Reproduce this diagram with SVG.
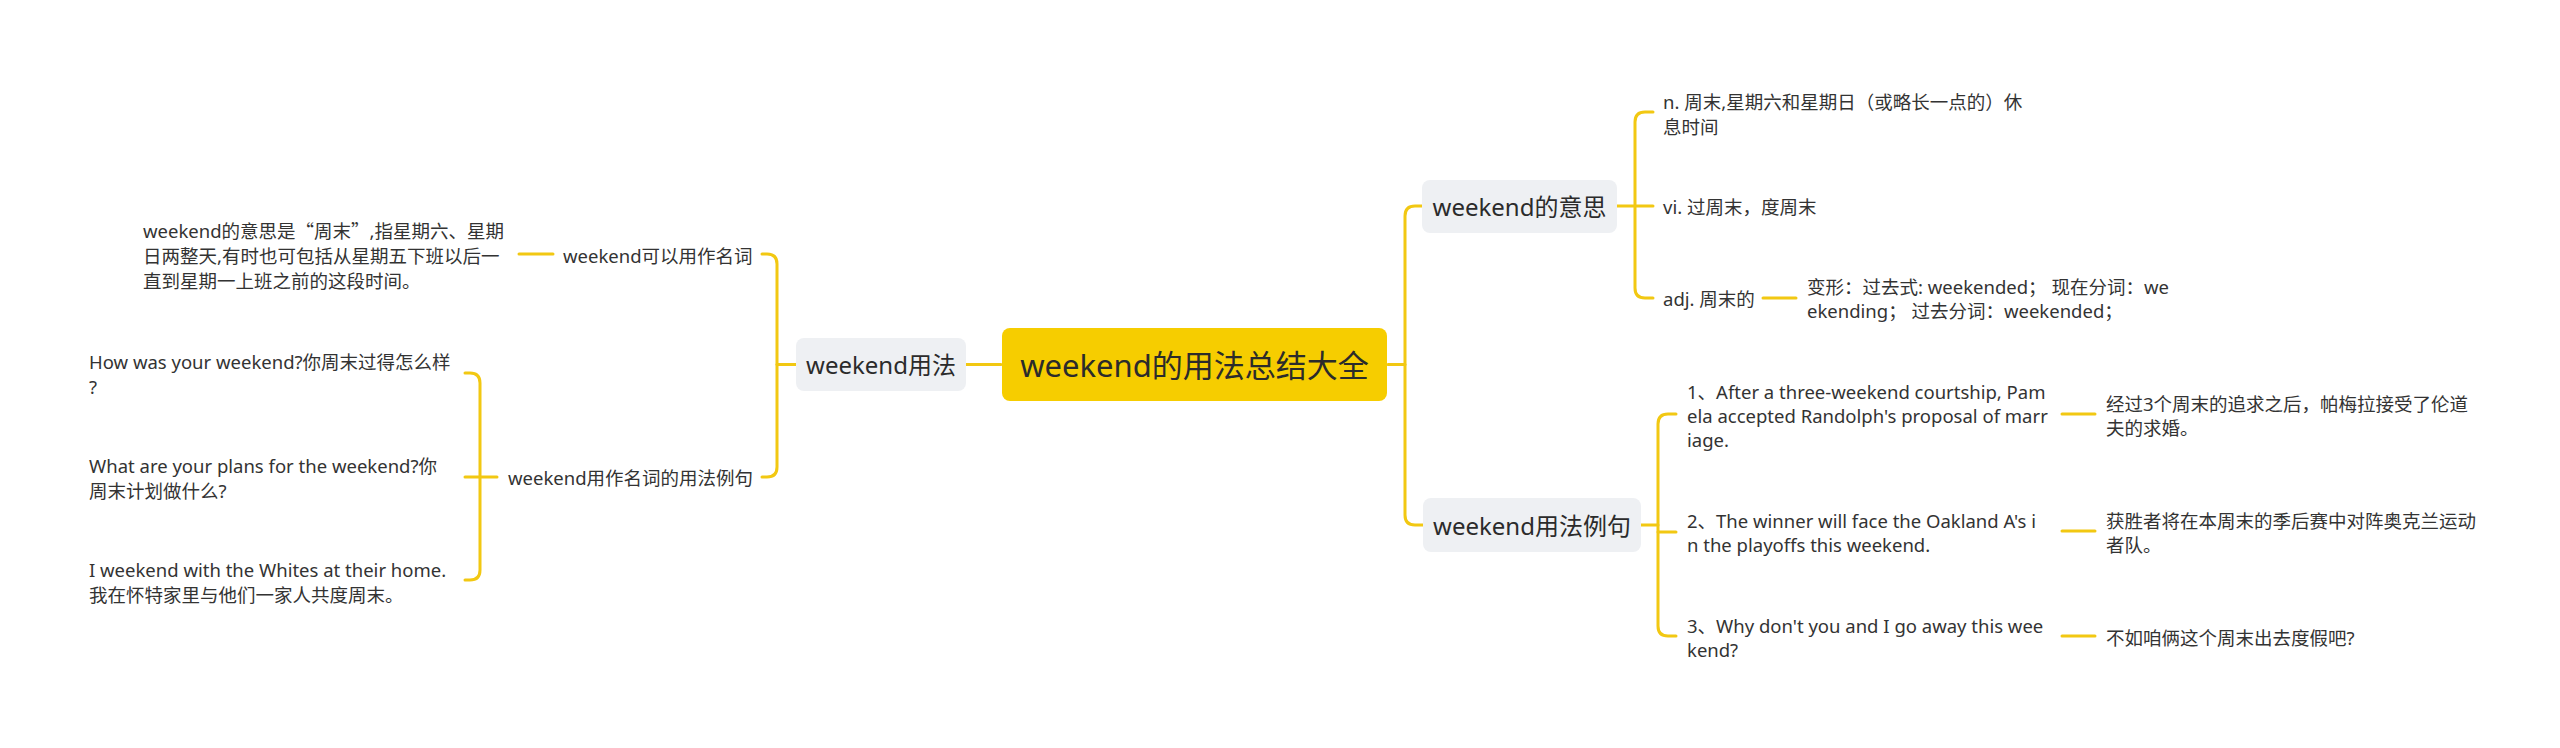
<svg xmlns="http://www.w3.org/2000/svg" width="2560" height="748" viewBox="0 0 2560 748">
<style>
text{font-family:"Noto Sans","Noto Sans CJK SC",sans-serif;fill:#333;dominant-baseline:central}
.root{font-size:31px;text-anchor:middle;fill:#2b2b2b}
.br{font-size:24px;text-anchor:middle;fill:#2b2b2b}
.sm{font-size:18.5px}
.cjk{font-family:"Noto Sans CJK SC",sans-serif}
.c{fill:none;stroke:#F2C812;stroke-width:3;stroke-linecap:round}
.bx{fill:#EEF0F3}
</style>
<rect width="2560" height="748" fill="#fff"/>
<g id="connectors">
<path class="c" d="M1001,364.5 H966"/>
<path class="c" d="M796,364.5 H777"/>
<path class="c" d="M762,254 H767 Q777,254 777,264 V467 Q777,477 767,477 H762"/>
<path class="c" d="M519,254 H553"/>
<path class="c" d="M497,477 H465"/>
<path class="c" d="M465,373 H470 Q480,373 480,383 V570 Q480,580 470,580 H465"/>
<path class="c" d="M1388,364.5 H1405"/>
<path class="c" d="M1422,206 H1415 Q1405,206 1405,216 V515 Q1405,525 1415,525 H1423"/>
<path class="c" d="M1617,206 H1653"/>
<path class="c" d="M1653,112 H1645 Q1635,112 1635,122 V288 Q1635,298 1645,298 H1653"/>
<path class="c" d="M1763,298 H1796"/>
<path class="c" d="M1641,525 H1658"/>
<path class="c" d="M1658,532 H1676"/>
<path class="c" d="M1676,414 H1668 Q1658,414 1658,424 V626 Q1658,636 1668,636 H1676"/>
<path class="c" d="M2062,414 H2095"/>
<path class="c" d="M2062,531 H2095"/>
<path class="c" d="M2062,636 H2095"/>
</g>
<g id="root">
<rect x="1002" y="328" width="385" height="73" rx="8" fill="#F6CD00"/>
<text class="root" x="1194.5" y="364.5">weekend的用法总结大全</text>
</g>
<g id="n-usage">
<rect class="bx" x="796" y="338" width="170" height="53" rx="8"/>
<text class="br" x="881" y="364.5">weekend用法</text>
</g>
<g id="n-noun">
<text class="sm" x="563" y="255">weekend可以用作名词</text>
</g>
<g id="n-noun-desc">
<text class="sm" x="143" y="230">weekend的意思是<tspan class="cjk">“</tspan>周末<tspan class="cjk">”</tspan>,指星期六、星期</text>
<text class="sm" x="143" y="255">日两整天,有时也可包括从星期五下班以后一</text>
<text class="sm" x="143" y="280">直到星期一上班之前的这段时间。</text>
</g>
<g id="n-noun-examples">
<text class="sm" x="508" y="477">weekend用作名词的用法例句</text>
</g>
<g id="n-ex1">
<text class="sm" x="89" y="361">How was your weekend?你周末过得怎么样</text>
<text class="sm" x="89" y="386">?</text>
</g>
<g id="n-ex2">
<text class="sm" x="89" y="465">What are your plans for the weekend?你</text>
<text class="sm" x="89" y="490">周末计划做什么?</text>
</g>
<g id="n-ex3">
<text class="sm" x="89" y="569">I weekend with the Whites at their home.</text>
<text class="sm" x="89" y="594">我在怀特家里与他们一家人共度周末。</text>
</g>
<g id="n-meaning">
<rect class="bx" x="1422" y="180" width="195" height="53" rx="8"/>
<text class="br" x="1519.5" y="206">weekend的意思</text>
</g>
<g id="n-m1">
<text class="sm" x="1663" y="101">n. 周末,星期六和星期日（或略长一点的）休</text>
<text class="sm" x="1663" y="126">息时间</text>
</g>
<g id="n-m2">
<text class="sm" x="1663" y="206">vi. 过周末，度周末</text>
</g>
<g id="n-m3">
<text class="sm" x="1663" y="298">adj. 周末的</text>
</g>
<g id="n-m3-forms">
<text class="sm" x="1807" y="286">变形：过去式: weekended； 现在分词：we</text>
<text class="sm" x="1807" y="310">ekending； 过去分词：weekended；</text>
</g>
<g id="n-examples">
<rect class="bx" x="1423" y="498" width="218" height="54" rx="8"/>
<text class="br" x="1532" y="525">weekend用法例句</text>
</g>
<g id="n-e1">
<text class="sm" x="1687" y="391">1、After a three-weekend courtship, Pam</text>
<text class="sm" x="1687" y="415">ela accepted Randolph's proposal of marr</text>
<text class="sm" x="1687" y="439">iage.</text>
</g>
<g id="n-e1-cn">
<text class="sm" x="2106" y="403">经过3个周末的追求之后，帕梅拉接受了伦道</text>
<text class="sm" x="2106" y="427">夫的求婚。</text>
</g>
<g id="n-e2">
<text class="sm" x="1687" y="520">2、The winner will face the Oakland A's i</text>
<text class="sm" x="1687" y="544">n the playoffs this weekend.</text>
</g>
<g id="n-e2-cn">
<text class="sm" x="2106" y="520">获胜者将在本周末的季后赛中对阵奥克兰运动</text>
<text class="sm" x="2106" y="544">者队。</text>
</g>
<g id="n-e3">
<text class="sm" x="1687" y="625">3、Why don't you and I go away this wee</text>
<text class="sm" x="1687" y="649">kend?</text>
</g>
<g id="n-e3-cn">
<text class="sm" x="2106" y="637">不如咱俩这个周末出去度假吧?</text>
</g>
</svg>
